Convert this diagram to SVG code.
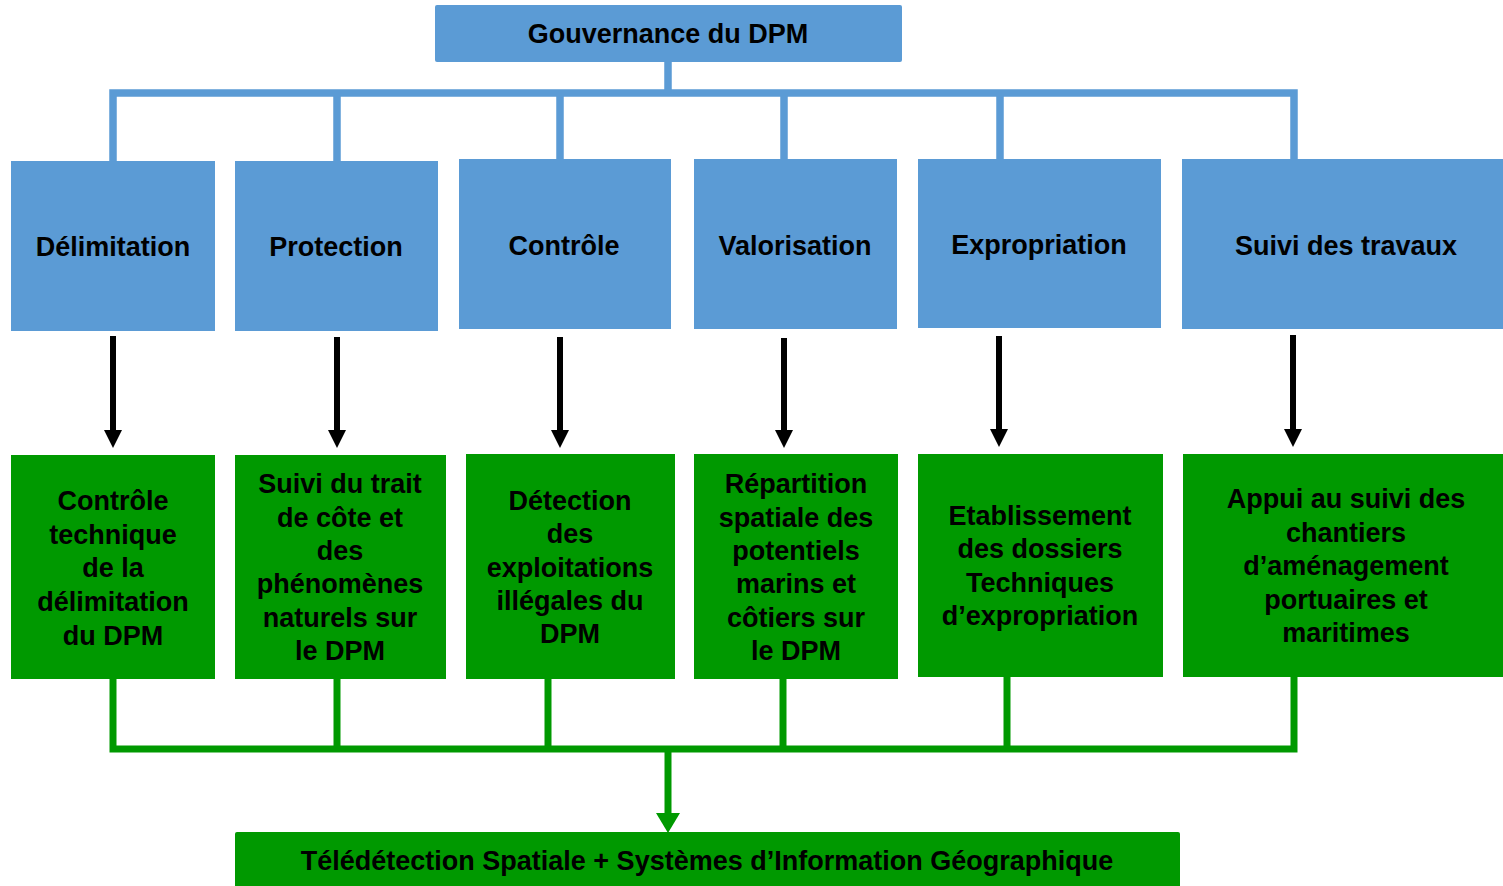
<svg xmlns="http://www.w3.org/2000/svg" width="1503" height="886" viewBox="0 0 1503 886">
<style>
.blue{fill:#5B9BD5}
.green{fill:#009900}
text{font-family:"Liberation Sans",Arial,sans-serif;font-weight:bold;font-size:27px;fill:#000;text-anchor:middle}
.cb{fill:none;stroke:#5B9BD5;stroke-width:7.5}
.cg{fill:none;stroke:#009900;stroke-width:7}
.ck{fill:none;stroke:#000;stroke-width:6}
</style>
<defs>
<marker id="ak" markerUnits="userSpaceOnUse" markerWidth="18" markerHeight="18" refX="0" refY="9" orient="auto" viewBox="0 0 18 18">
<path d="M0,0 L18,9 L0,18 z" fill="#000"/>
</marker>
<marker id="ag" markerUnits="userSpaceOnUse" markerWidth="20" markerHeight="24" refX="0" refY="12" orient="auto" viewBox="0 0 20 24">
<path d="M0,0 L20,12 L0,24 z" fill="#009900"/>
</marker>
</defs>
<rect width="1503" height="886" fill="#fff"/>
<g id="connectors">
<path class="cb" d="M668,62 V93 M113,161 V93 H1294 V159 M337,93 V161 M560,93 V159 M784,93 V159 M1000,93 V159"/>
<line class="ck" x1="113" y1="336" x2="113" y2="430" marker-end="url(#ak)"/>
<line class="ck" x1="337" y1="337" x2="337" y2="430" marker-end="url(#ak)"/>
<line class="ck" x1="560" y1="337" x2="560" y2="430" marker-end="url(#ak)"/>
<line class="ck" x1="784" y1="338" x2="784" y2="430" marker-end="url(#ak)"/>
<line class="ck" x1="999" y1="336" x2="999" y2="429" marker-end="url(#ak)"/>
<line class="ck" x1="1293" y1="335" x2="1293" y2="429" marker-end="url(#ak)"/>
<path class="cg" d="M113,678 V749 H1294 V676 M337,678 V749 M548,678 V749 M783,678 V749 M1007,676 V749"/>
<line class="cg" x1="668" y1="749" x2="668" y2="813" marker-end="url(#ag)"/>
</g>
<g id="gouvernance">
<rect class="blue" x="435" y="5" width="467" height="57" rx="2"/>
<text x="668" y="43">Gouvernance du DPM</text>
</g>
<g id="delimitation">
<rect class="blue" x="11" y="161" width="204" height="170"/>
<text x="113" y="256">Délimitation</text>
</g>
<g id="protection">
<rect class="blue" x="235" y="161" width="203" height="170"/>
<text x="336" y="256">Protection</text>
</g>
<g id="controle">
<rect class="blue" x="459" y="159" width="212" height="170"/>
<text x="564" y="255">Contrôle</text>
</g>
<g id="valorisation">
<rect class="blue" x="694" y="159" width="203" height="170"/>
<text x="795" y="255">Valorisation</text>
</g>
<g id="expropriation">
<rect class="blue" x="918" y="159" width="243" height="169"/>
<text x="1039" y="254">Expropriation</text>
</g>
<g id="suivi-travaux">
<rect class="blue" x="1182" y="159" width="321" height="170"/>
<text x="1346" y="255">Suivi des travaux</text>
</g>
<g id="controle-technique">
<rect class="green" x="11" y="455" width="204" height="224"/>
<text><tspan x="113" y="510">Contrôle</tspan><tspan x="113" y="544">technique</tspan><tspan x="113" y="577">de la</tspan><tspan x="113" y="611">délimitation</tspan><tspan x="113" y="645">du DPM</tspan></text>
</g>
<g id="suivi-trait">
<rect class="green" x="235" y="455" width="211" height="224"/>
<text><tspan x="340" y="493">Suivi du trait</tspan><tspan x="340" y="527">de côte et</tspan><tspan x="340" y="560">des</tspan><tspan x="340" y="593">phénomènes</tspan><tspan x="340" y="627">naturels sur</tspan><tspan x="340" y="660">le DPM</tspan></text>
</g>
<g id="detection">
<rect class="green" x="466" y="454" width="209" height="225"/>
<text><tspan x="570" y="510">Détection</tspan><tspan x="570" y="543">des</tspan><tspan x="570" y="577">exploitations</tspan><tspan x="570" y="610">illégales du</tspan><tspan x="570" y="643">DPM</tspan></text>
</g>
<g id="repartition">
<rect class="green" x="694" y="454" width="204" height="225"/>
<text><tspan x="796" y="493">Répartition</tspan><tspan x="796" y="527">spatiale des</tspan><tspan x="796" y="560">potentiels</tspan><tspan x="796" y="593">marins et</tspan><tspan x="796" y="627">côtiers sur</tspan><tspan x="796" y="660">le DPM</tspan></text>
</g>
<g id="etablissement">
<rect class="green" x="918" y="454" width="245" height="223"/>
<text><tspan x="1040" y="525">Etablissement</tspan><tspan x="1040" y="558">des dossiers</tspan><tspan x="1040" y="592">Techniques</tspan><tspan x="1040" y="625">d’expropriation</tspan></text>
</g>
<g id="appui">
<rect class="green" x="1183" y="454" width="320" height="223"/>
<text><tspan x="1346" y="508">Appui au suivi des</tspan><tspan x="1346" y="542">chantiers</tspan><tspan x="1346" y="575">d’aménagement</tspan><tspan x="1346" y="609">portuaires et</tspan><tspan x="1346" y="642">maritimes</tspan></text>
</g>
<g id="teledetection">
<rect class="green" x="235" y="832" width="945" height="60" rx="2"/>
<text x="707" y="870">Télédétection Spatiale + Systèmes d’Information Géographique</text>
</g>
</svg>
